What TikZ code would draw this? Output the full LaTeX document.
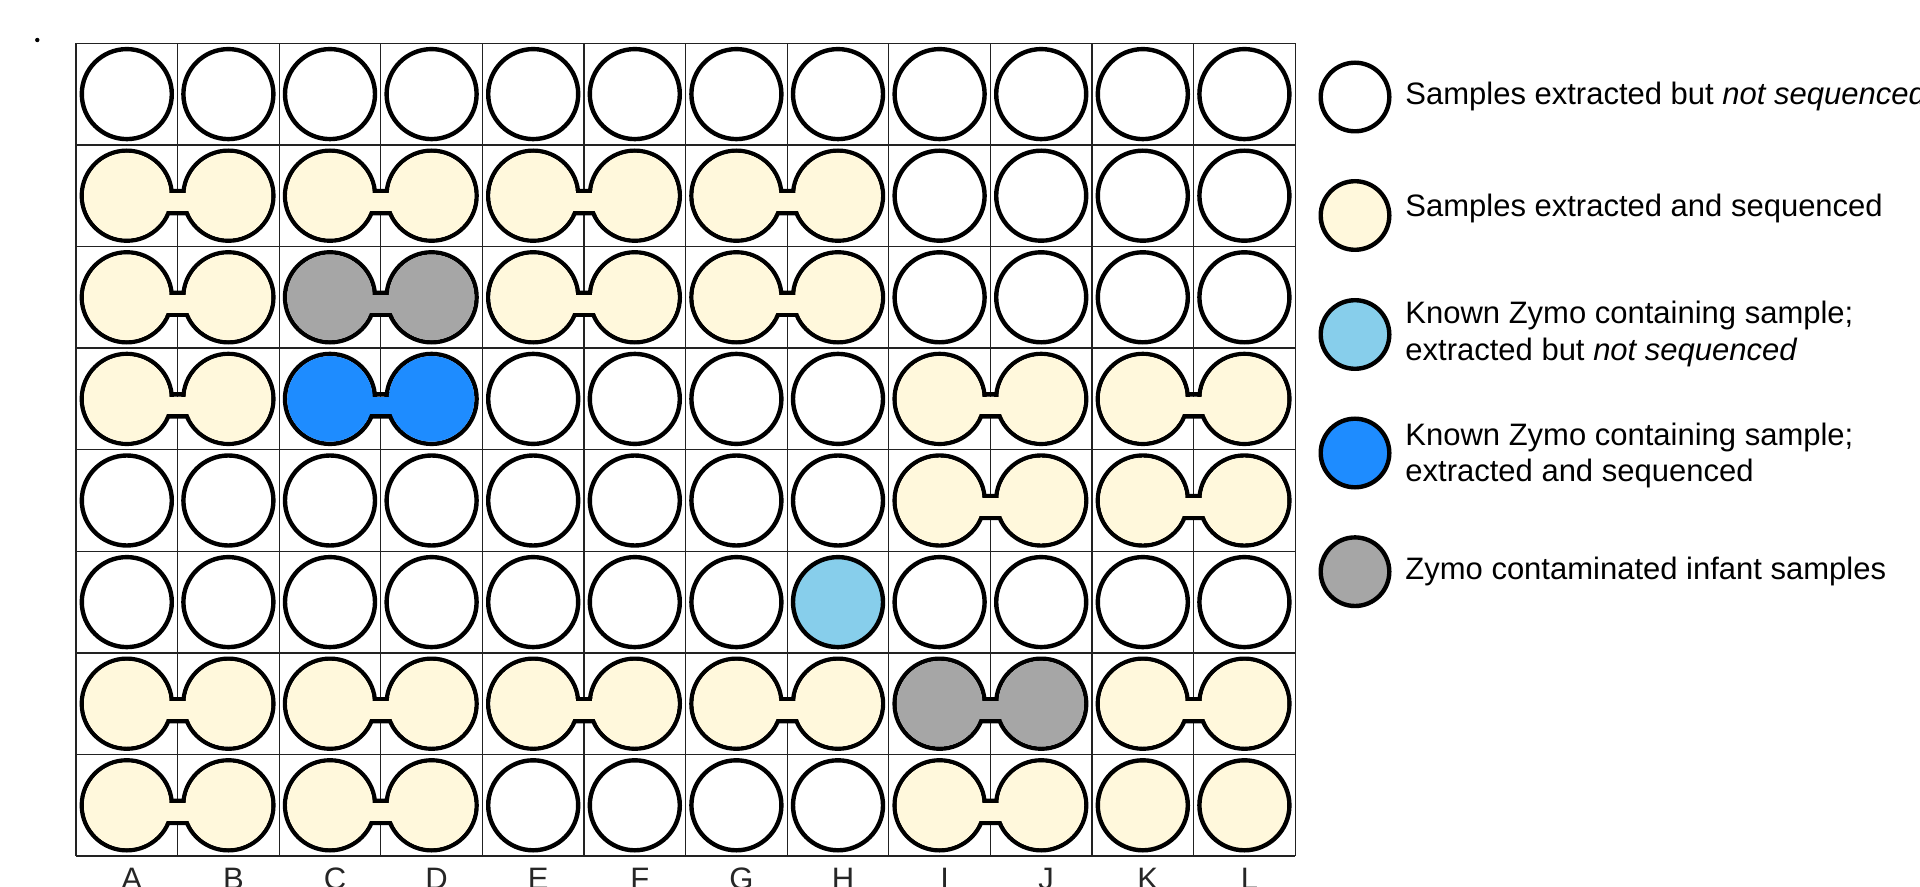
\documentclass[tikz,border=0pt]{standalone}
\usepackage{fontspec}
\setmainfont{Liberation Sans}
\definecolor{cream}{HTML}{FFF8DC}
\definecolor{zgray}{HTML}{A6A6A6}
\definecolor{zblue}{HTML}{1E8CFF}
\definecolor{zlight}{HTML}{87CEEB}
\definecolor{gridc}{HTML}{222222}
\tikzset{
  wellstroke/.style={draw=black,line width=2.2pt},
  gridline/.style={draw=gridc,line width=0.65pt},
  legtext/.style={inner sep=0pt,anchor=base west,align=left,font=\fontsize{15.5}{18.35}\selectfont},
  collabel/.style={inner sep=0pt,anchor=base,font=\fontsize{15.5}{18.35}\selectfont,text=black!85}
}
\newcommand\onewell[3]{%
  \pgfmathsetmacro\wellXa{76+101.6*(#1-0.5)}%
  \pgfmathsetmacro\wellYa{43.3+101.6*(#2-0.5)}%
  \draw[wellstroke,fill=#3] (\wellXa,\wellYa) circle[radius=45];}
\newcommand\twowell[3]{%
  \pgfmathsetmacro\wellXa{76+101.6*(#1-0.5)}%
  \pgfmathsetmacro\wellXb{\wellXa+101.6}%
  \pgfmathsetmacro\wellYa{43.3+101.6*(#2-0.5)}%
  \draw[wellstroke] (\wellXa,\wellYa) circle[radius=45] (\wellXb,\wellYa) circle[radius=45]
     (\wellXa,\wellYa-4.5) rectangle (\wellXb,\wellYa+17.5);
  \fill[#3] (\wellXa,\wellYa) circle[radius=42.8];
  \fill[#3] (\wellXb,\wellYa) circle[radius=42.8];
  \fill[#3] (\wellXa,\wellYa-2.3) rectangle (\wellXb,\wellYa+15.3);}
\begin{document}
\begin{tikzpicture}[x=0.5pt,y=-0.5pt]
\useasboundingbox[fill=white] (0,0) rectangle (1920,887);
% stray dot
\fill (37.3,40) circle[radius=2.2];
% grid
\foreach \i in {0,...,12} \draw[gridline] ({76+101.6*\i},43.3) -- ({76+101.6*\i},856.1);
\foreach \j in {0,...,8} \draw[gridline] (76,{43.3+101.6*\j}) -- (1295.2,{43.3+101.6*\j});
% row 1
\foreach \c in {1,...,12} {\onewell{\c}{1}{white}}
% row 2
\foreach \c in {1,3,5,7} {\twowell{\c}{2}{cream}}
\foreach \c in {9,...,12} {\onewell{\c}{2}{white}}
% row 3
\twowell{1}{3}{cream}
\twowell{3}{3}{zgray}
\twowell{5}{3}{cream}
\twowell{7}{3}{cream}
\foreach \c in {9,...,12} {\onewell{\c}{3}{white}}
% row 4
\twowell{1}{4}{cream}
\twowell{3}{4}{zblue}
\foreach \c in {5,...,8} {\onewell{\c}{4}{white}}
\twowell{9}{4}{cream}
\twowell{11}{4}{cream}
% row 5
\foreach \c in {1,...,8} {\onewell{\c}{5}{white}}
\twowell{9}{5}{cream}
\twowell{11}{5}{cream}
% row 6
\foreach \c in {1,...,7} {\onewell{\c}{6}{white}}
\onewell{8}{6}{zlight}
\foreach \c in {9,...,12} {\onewell{\c}{6}{white}}
% row 7
\foreach \c in {1,3,5,7} {\twowell{\c}{7}{cream}}
\twowell{9}{7}{zgray}
\twowell{11}{7}{cream}
% row 8
\twowell{1}{8}{cream}
\twowell{3}{8}{cream}
\foreach \c in {5,...,8} {\onewell{\c}{8}{white}}
\twowell{9}{8}{cream}
\onewell{11}{8}{cream}
\onewell{12}{8}{cream}
% column labels
\foreach \L [count=\k] in {A,B,C,D,E,F,G,H,I,J,K,L}
  \node[collabel] (col\L) at ({76+101.6*(\k-0.5)+5},889) {\L};
% legend
\draw[wellstroke,fill=white]  (1355,97)    circle[radius=34.3];
\draw[wellstroke,fill=cream]  (1355,215.5) circle[radius=34.3];
\draw[wellstroke,fill=zlight] (1355,334.5) circle[radius=34.3];
\draw[wellstroke,fill=zblue]  (1355,453)   circle[radius=34.3];
\draw[wellstroke,fill=zgray]  (1355,571.7) circle[radius=34.3];
\node[legtext] (leg1) at (1405,105)   {Samples extracted but \textit{not sequenced}};
\node[legtext] (leg2) at (1405,216.7) {Samples extracted and sequenced};
\node[legtext] (leg3) at (1405,360)   {Known Zymo containing sample;\\extracted but \textit{not sequenced}};
\node[legtext] (leg4) at (1405,481.7) {Known Zymo containing sample;\\extracted and sequenced};
\node[legtext] (leg5) at (1405,579.3) {Zymo contaminated infant samples};
\end{tikzpicture}
\end{document}
